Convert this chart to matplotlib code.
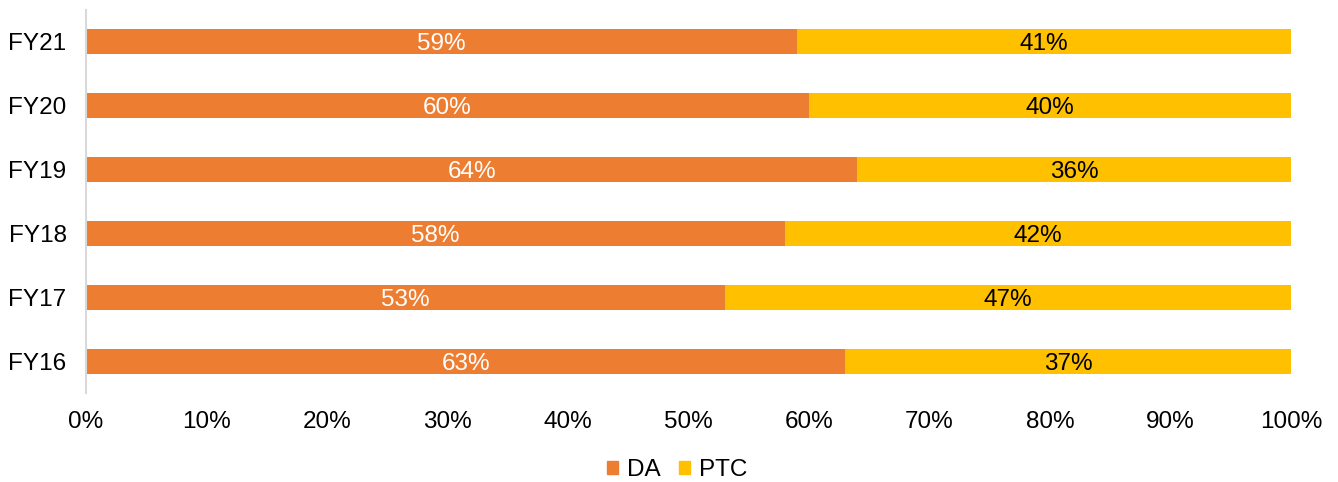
import matplotlib
matplotlib.use("Agg")
import matplotlib.pyplot as plt
from matplotlib.patches import Patch

plt.rcParams['font.family'] = ['Liberation Sans', 'DejaVu Sans']

categories = ["FY16", "FY17", "FY18", "FY19", "FY20", "FY21"]
da = [63, 53, 58, 64, 60, 59]
ptc = [37, 47, 42, 36, 40, 41]
xtick_vals = [0, 10, 20, 30, 40, 50, 60, 70, 80, 90, 100]

c_da = "#ED7D31"
c_ptc = "#FFC000"
fs = 17.5

fig = plt.figure(figsize=(13.38, 4.82), dpi=100)
ax = fig.add_axes([86/1338, 1-393/482, (1291-86)/1338, 383/482])

y = list(range(len(categories)))
h = 0.39
ax.barh(y, da, height=h, color=c_da, label="DA")
ax.barh(y, ptc, left=da, height=h, color=c_ptc, label="PTC")

for i in y:
    ax.text(da[i]/2, i, f"{da[i]}%", ha="center", va="center_baseline", color="white", fontsize=fs)
    ax.text(da[i] + ptc[i]/2, i, f"{ptc[i]}%", ha="center", va="center_baseline", color="black", fontsize=fs)

ax.set_xlim(0, 100)
ax.set_ylim(-0.5, len(categories) - 0.5)
ax.set_yticks(y)
ax.set_yticklabels(categories, fontsize=fs)
ax.set_xticks(xtick_vals)
ax.set_xticklabels([f"{v}%" for v in xtick_vals], fontsize=fs)
ax.tick_params(axis="both", length=0)
ax.tick_params(axis="y", pad=14)
ax.tick_params(axis="x", pad=13)
for s in ["top", "right", "bottom"]:
    ax.spines[s].set_visible(False)
ax.spines["left"].set_color("#D9D9D9")
ax.spines["left"].set_linewidth(1.5)

handles = [Patch(color=c_da, label="DA"), Patch(color=c_ptc, label="PTC")]
fig.legend(handles=handles, loc="center", bbox_to_anchor=(0.506, 1-470/482), ncol=2,
           frameon=False, fontsize=fs, handlelength=0.47, handleheight=0.47,
           handletextpad=0.35, columnspacing=0.75)

fig.savefig("out.png", dpi=100)
